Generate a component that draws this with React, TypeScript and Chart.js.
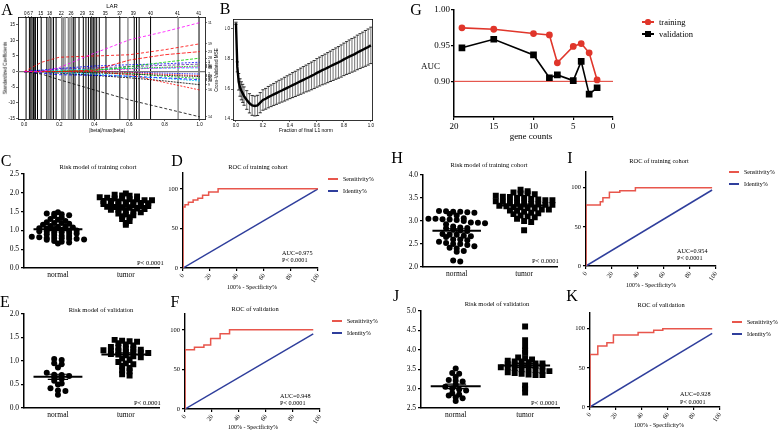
import React, { useEffect, useRef } from "react";
import { Chart, registerables } from "chart.js";

Chart.register(...registerables);

const SERIF = '"Liberation Serif", "Times New Roman", serif';
const SANS = '"Liberation Sans", Arial, sans-serif';
const G_RED = "#e0362b";
const ROC_RED = "#e8564c";
const ROC_BLUE = "#2f3e9c";

/* ---------------- Panel A : LAR coefficient paths ---------------- */
const larKnots = [0, 0.1, 0.2, 0.4, 0.6, 0.8, 1.0];
const larCoefMagenta = [0, 0, 1.3, 5.9, 10.2, 12.8, 15.7];
const larCoefBlackDown = [0, -0.8, -2.6, -5.9, -9.1, -11.8, -14.5];
const larCoefRedUp = [0, 3.0, 4.6, 5.0, 5.4, 7.0, 8.9];
const larCoefRed2 = [0, 0, 0, 0.5, 3.7, 5.4, 6.4];
const larCoefRedDown = [0, 0, 0, 0, -1.0, -3.5, -5.9];
const larCoefGreen = [0, 0, 0, 0.3, 1.6, 3.0, 4.3];
const larCoefBlue = [0, 0.5, 1.0, 1.8, 2.2, 2.5, 3.0];
const larCoefBlue2 = [0, -0.5, -1.0, -1.2, -1.5, -2.0, -2.6];
const larCoefCyan = [0, 0, -0.3, -0.8, -1.5, -2.2, -3.0];
const larCoefPurple = [0, 0.3, 0.8, 1.2, 1.6, 2.0, 2.4];
const larCoefGreen2 = [0, 0, 0.2, 0.6, 1.0, 1.4, 1.8];
const larCoefBlack2 = [0, 0, -0.5, -1.2, -2.0, -3.0, -4.2];
const larCoefMagenta2 = [0, 0, 0, 0.4, 0.8, 1.2, 1.5];
const larCoefCyan2 = [0, 0, 0.4, 0.8, 1.0, 1.1, 1.2];
const larCoefBlack3 = [0, 0, 0, -0.4, -0.8, -1.2, -1.6];
const larCoefRed3 = [0, 0, 0, 0.2, -0.3, -0.9, -1.3];
const larCoefGreen3 = [0, 0, 0, -0.2, -0.6, -1.5, -2.2];
const larCoefBlue3 = [0, 0, 0, 0, -0.2, -0.5, -0.8];
const larRightLabels = ["11", "14", "19", "23", "16", "28", "3", "33", "20", "7", "30", "9", "25", "36", "12", "40", "5", "2"];
const larStepsBlack = [0.011, 0.03, 0.038, 0.045, 0.053, 0.061, 0.064, 0.076, 0.097, 0.129, 0.148, 0.167, 0.182, 0.28, 0.29, 0.3125, 0.337, 0.352, 0.366, 0.379, 0.386, 0.394, 0.403, 0.413, 0.428, 0.466, 0.545, 0.627, 0.64, 0.655, 0.72, 0.996];
const larStepsGray = [0.138, 0.157, 0.214, 0.223, 0.233, 0.252, 0.261, 0.271, 0.591, 0.877];
const larTopTickPos = [0.006, 0.025, 0.044, 0.095, 0.144, 0.212, 0.267, 0.333, 0.384, 0.462, 0.545, 0.621, 0.72, 0.873, 0.994];
const larTopTickLabels = ["0", "6", "7", "15", "18", "22", "26", "29", "32", "35", "37", "39", "40", "41", "41"];
const larXTicks = [0, 0.2, 0.4, 0.6, 0.8, 1.0];
const larYTicks = [-15, -10, -5, 0, 5, 10, 15];

/* ---------------- Panel B : cross-validation curve ---------------- */
const cvFraction = [0, 0.01, 0.02, 0.03, 0.04, 0.05, 0.06, 0.08, 0.1, 0.12, 0.14, 0.16, 0.18, 0.2, 0.22, 0.24, 0.26, 0.28, 0.3, 0.32, 0.34, 0.36, 0.38, 0.4, 0.42, 0.44, 0.46, 0.48, 0.5, 0.52, 0.54, 0.56, 0.58, 0.6, 0.62, 0.64, 0.66, 0.68, 0.7, 0.72, 0.74, 0.76, 0.78, 0.8, 0.82, 0.84, 0.86, 0.88, 0.9, 0.92, 0.94, 0.96, 0.98, 1.0];
const cvMean = [1.038, 0.748, 0.649, 0.611, 0.589, 0.572, 0.554, 0.528, 0.506, 0.492, 0.488, 0.492, 0.51, 0.528, 0.536, 0.547, 0.556, 0.565, 0.574, 0.583, 0.591, 0.6, 0.609, 0.618, 0.627, 0.635, 0.644, 0.653, 0.662, 0.671, 0.679, 0.688, 0.697, 0.708, 0.717, 0.726, 0.734, 0.743, 0.752, 0.761, 0.77, 0.778, 0.787, 0.798, 0.807, 0.816, 0.825, 0.833, 0.844, 0.853, 0.862, 0.871, 0.88, 0.891];
const cvSd = [0.007, 0.033, 0.055, 0.058, 0.06, 0.06, 0.061, 0.062, 0.064, 0.066, 0.066, 0.067, 0.067, 0.068, 0.069, 0.071, 0.072, 0.073, 0.075, 0.076, 0.077, 0.079, 0.08, 0.081, 0.083, 0.084, 0.085, 0.087, 0.088, 0.089, 0.091, 0.092, 0.093, 0.095, 0.096, 0.097, 0.099, 0.1, 0.101, 0.103, 0.104, 0.105, 0.107, 0.108, 0.109, 0.111, 0.112, 0.113, 0.115, 0.116, 0.117, 0.119, 0.12, 0.121];
const cvXTicks = [0, 0.2, 0.4, 0.6, 0.8, 1.0];
const cvYTicks = [0.4, 0.6, 0.8, 1.0];

/* ---------------- Panel G : AUC vs gene counts ---------------- */
const geneCounts = [19, 15, 10, 8, 7, 5, 4, 3, 2];
const aucTraining = [0.975, 0.973, 0.967, 0.965, 0.926, 0.949, 0.953, 0.94, 0.902];
const aucValidation = [0.947, 0.959, 0.937, 0.905, 0.909, 0.901, 0.928, 0.882, 0.891];
const aucCutoff = 0.9;
const gXTicks = [0, 5, 10, 15, 20];
const gYTicks = [0.9, 0.95, 1.0];

/* ---------------- Dot plots C, E, H, J ---------------- */
const dotCategories = ["normal", "tumor"];
const cNormal = [1.48, 1.45, 1.44, 1.43, 1.4, 1.38, 1.35, 1.3, 1.28, 1.25, 1.22, 1.2, 1.2, 1.18, 1.15, 1.12, 1.1, 1.1, 1.08, 1.06, 1.05, 1.04, 1.02, 1.0, 1.0, 0.98, 0.97, 0.95, 0.95, 0.93, 0.92, 0.9, 0.88, 0.86, 0.85, 0.83, 0.82, 0.8, 0.8, 0.79, 0.78, 0.78, 0.76, 0.75, 0.72, 0.7, 0.68, 0.65];
const cTumor = [1.98, 1.95, 1.93, 1.92, 1.9, 1.88, 1.87, 1.85, 1.85, 1.83, 1.82, 1.8, 1.8, 1.78, 1.78, 1.77, 1.75, 1.75, 1.73, 1.72, 1.7, 1.7, 1.68, 1.68, 1.67, 1.65, 1.65, 1.63, 1.62, 1.6, 1.6, 1.58, 1.57, 1.55, 1.55, 1.52, 1.5, 1.48, 1.45, 1.42, 1.4, 1.38, 1.35, 1.3, 1.25, 1.2, 1.15];
const cYTicks = [0, 0.5, 1.0, 1.5, 2.0, 2.5];
const eNormal = [1.04, 1.02, 0.95, 0.93, 0.86, 0.75, 0.71, 0.7, 0.68, 0.65, 0.62, 0.58, 0.52, 0.5, 0.42, 0.37, 0.36, 0.28];
const eTumor = [1.45, 1.43, 1.42, 1.41, 1.38, 1.35, 1.33, 1.3, 1.28, 1.26, 1.25, 1.24, 1.23, 1.22, 1.21, 1.2, 1.19, 1.18, 1.17, 1.15, 1.14, 1.12, 1.1, 1.08, 1.05, 1.02, 0.98, 0.95, 0.93, 0.9, 0.85, 0.8, 0.78, 0.72, 0.69];
const eYTicks = [0, 0.5, 1.0, 1.5, 2.0];
const hNormal = [3.22, 3.21, 3.2, 3.2, 3.19, 3.18, 3.15, 3.12, 3.06, 3.05, 3.05, 3.04, 3.03, 3.02, 3.0, 2.97, 2.96, 2.95, 2.93, 2.88, 2.86, 2.85, 2.84, 2.82, 2.8, 2.78, 2.72, 2.7, 2.7, 2.68, 2.67, 2.65, 2.6, 2.6, 2.58, 2.55, 2.52, 2.5, 2.5, 2.48, 2.45, 2.42, 2.4, 2.35, 2.33, 2.14, 2.12];
const hTumor = [3.68, 3.65, 3.62, 3.6, 3.6, 3.58, 3.55, 3.53, 3.52, 3.5, 3.5, 3.48, 3.47, 3.45, 3.45, 3.43, 3.42, 3.4, 3.4, 3.38, 3.37, 3.36, 3.35, 3.35, 3.33, 3.32, 3.3, 3.3, 3.28, 3.27, 3.25, 3.25, 3.23, 3.22, 3.2, 3.18, 3.17, 3.15, 3.12, 3.1, 3.08, 3.05, 3.0, 2.98, 2.8];
const hYTicks = [2.0, 2.5, 3.0, 3.5, 4.0];
const jNormal = [3.52, 3.4, 3.38, 3.3, 3.22, 3.2, 3.18, 3.1, 3.05, 3.0, 2.98, 2.95, 2.88, 2.85, 2.82, 2.78, 2.75, 2.68];
const jTumor = [4.6, 4.25, 4.1, 3.98, 3.92, 3.8, 3.78, 3.75, 3.72, 3.7, 3.7, 3.68, 3.65, 3.65, 3.63, 3.62, 3.6, 3.6, 3.58, 3.57, 3.55, 3.55, 3.53, 3.5, 3.5, 3.48, 3.45, 3.45, 3.42, 3.4, 3.38, 3.36, 3.35, 3.35, 3.08, 3.0, 2.9];
const jYTicks = [2.5, 3.0, 3.5, 4.0, 4.5, 5.0];

/* ---------------- ROC curves D, F, I, K ---------------- */
const rocDFpr = [0, 0, 1.5, 1.5, 4, 4, 7.5, 7.5, 11, 11, 14.5, 14.5, 19, 19, 26, 26, 100];
const rocDTpr = [0, 77, 77, 80, 80, 83, 83, 86, 86, 88, 88, 92, 92, 96, 96, 100, 100];
const rocDIdentity = [0, 100];
const rocFFpr = [0, 0, 7, 7, 14, 14, 19, 19, 26, 26, 33, 33, 95];
const rocFTpr = [0, 75, 75, 78, 78, 81, 81, 89, 89, 95, 95, 100, 100];
const rocFIdentity = [0, 95];
const rocIFpr = [0, 0, 11, 11, 13, 13, 18, 18, 26, 26, 38, 38, 97];
const rocITpr = [0, 78, 78, 82, 82, 87, 87, 94, 94, 96, 96, 100, 100];
const rocIIdentity = [0, 97];
const rocKFpr = [0, 0, 6, 6, 13, 13, 18, 18, 37, 37, 49, 49, 56, 56, 94];
const rocKTpr = [0, 67, 67, 78, 78, 82, 82, 92, 92, 95, 95, 98, 98, 100, 100];
const rocKIdentity = [0, 94];
const rocXTicks = [0, 20, 40, 60, 80, 100];
const rocYTicks = [0, 50, 100];

/* ---------------- helpers ---------------- */
type Box = { l: number; t: number; r: number; b: number };

const fit = (size: number) => (s: any) => {
  if (s.isHorizontal()) s.height = size;
  else s.width = size;
  s.paddingLeft = 0;
  s.paddingRight = 0;
  s.paddingTop = 0;
  s.paddingBottom = 0;
};
const setTicks = (vals: number[]) => (s: any) => {
  s.ticks = vals.map((v) => ({ value: v }));
};
const mean = (a: number[]) => a.reduce((p, c) => p + c, 0) / a.length;
const sem = (a: number[]) => {
  const m = mean(a);
  const v = a.reduce((p, c) => p + (c - m) * (c - m), 0) / (a.length - 1);
  return Math.sqrt(v) / Math.sqrt(a.length);
};
function swarm(vals: number[], center: number, bin: number, dx: number) {
  const groups = new Map<number, number[]>();
  vals.forEach((v) => {
    const k = Math.round(v / bin);
    if (!groups.has(k)) groups.set(k, []);
    groups.get(k)!.push(v);
  });
  const pts: { x: number; y: number }[] = [];
  groups.forEach((list) => {
    const n = list.length;
    list.forEach((v, i) => pts.push({ x: center + (i - (n - 1) / 2) * dx, y: v }));
  });
  return pts;
}
function base(pad: Box, top: boolean, right: boolean) {
  return {
    animation: false,
    responsive: false,
    maintainAspectRatio: false,
    events: [],
    layout: { padding: { left: 0, bottom: 0, top: top ? 0 : pad.t, right: right ? 0 : pad.r } },
    plugins: { legend: { display: false }, tooltip: { enabled: false } },
  };
}
const blackAxisGrid = (len: number, w = 1) => ({ drawOnChartArea: false, drawTicks: true, tickLength: len, color: "#000", lineWidth: w });

/* ---------------- chart builders ---------------- */
function larChart(pad: Box) {
  const paths: [number[], string, number[]][] = [
    [larCoefMagenta, "#ff00ff", [3, 2]],
    [larCoefBlackDown, "#000000", [3, 2]],
    [larCoefRedUp, "#ff0000", [3, 2]],
    [larCoefRed2, "#ff0000", [4, 1.5]],
    [larCoefRedDown, "#ff0000", [2, 1.5]],
    [larCoefGreen, "#00cd00", [3, 1.5]],
    [larCoefBlue, "#0000ff", [2, 1.5]],
    [larCoefBlue2, "#0000ff", [3, 2]],
    [larCoefCyan, "#00c8ff", [2, 1]],
    [larCoefPurple, "#5a1ea0", [3, 1.5]],
    [larCoefGreen2, "#00cd00", [1.5, 1]],
    [larCoefBlack2, "#000000", [2, 1]],
    [larCoefMagenta2, "#ff00ff", [2, 1]],
    [larCoefCyan2, "#00c8ff", [3, 1.5]],
    [larCoefBlack3, "#000000", [1.5, 1]],
    [larCoefRed3, "#ff0000", [1.5, 1]],
    [larCoefGreen3, "#00cd00", [2, 1.5]],
    [larCoefBlue3, "#0000ff", [1.5, 1]],
  ];
  const yMin = -15.2;
  const yMax = 17.5;
  const vlines = (steps: number[]) => steps.flatMap((s) => [{ x: s, y: yMin }, { x: s, y: yMax }, { x: s, y: null }]);
  const rightVals = paths.map((p) => p[0][p[0].length - 1]);
  return {
    type: "scatter",
    data: {
      datasets: [
        ...paths.map(([coef, color, dash]) => ({
          data: larKnots.map((x, i) => ({ x, y: coef[i] })),
          showLine: true,
          borderColor: color,
          borderWidth: 0.8,
          borderDash: dash,
          pointRadius: 0,
        })),
        { data: [{ x: -0.035, y: 0 }, { x: 1.03, y: 0 }], showLine: true, borderColor: "#7a7a7a", borderWidth: 1.2, pointRadius: 0 },
        { data: vlines(larStepsBlack), showLine: true, borderColor: "#000", borderWidth: 1, pointRadius: 0 },
        { data: vlines(larStepsGray), showLine: true, borderColor: "#8c8c8c", borderWidth: 1.4, pointRadius: 0 },
      ],
    },
    options: {
      ...base(pad, true, true),
      scales: {
        x: {
          type: "linear", min: -0.035, max: 1.03, afterBuildTicks: setTicks(larXTicks), afterFit: fit(pad.b),
          ticks: { autoSkip: false, maxRotation: 0, padding: 1, color: "#000", font: { family: SANS, size: 4.5 }, callback: (v: number) => v.toFixed(1) },
          grid: blackAxisGrid(2, 0.6), border: { color: "#000", width: 0.8 },
        },
        x2: {
          type: "linear", position: "top", min: -0.035, max: 1.03, afterBuildTicks: setTicks(larTopTickPos), afterFit: fit(pad.t),
          ticks: { autoSkip: false, maxRotation: 0, padding: 0, color: "#000", font: { family: SANS, size: 4.5 }, callback: (_v: number, i: number) => larTopTickLabels[i] },
          grid: blackAxisGrid(1, 0.6), border: { color: "#000", width: 0.8 },
        },
        y: {
          type: "linear", min: yMin, max: yMax, afterBuildTicks: setTicks(larYTicks), afterFit: fit(pad.l),
          ticks: { padding: 1, color: "#000", font: { family: SANS, size: 4.5 } },
          grid: blackAxisGrid(2, 0.6), border: { color: "#000", width: 0.8 },
        },
        y2: {
          type: "linear", position: "right", min: yMin, max: yMax, afterBuildTicks: setTicks(rightVals), afterFit: fit(pad.r),
          ticks: { autoSkip: false, padding: 1, color: "#000", font: { family: SANS, size: 3.6 }, callback: (_v: number, i: number) => larRightLabels[i] },
          grid: blackAxisGrid(2, 0.5), border: { color: "#000", width: 0.8 },
        },
      },
    },
  };
}

function cvChart(pad: Box) {
  const bars = cvFraction.flatMap((f, i) => [{ x: f, y: cvMean[i] - cvSd[i] }, { x: f, y: cvMean[i] + cvSd[i] }, { x: f, y: null }]);
  return {
    type: "scatter",
    data: {
      datasets: [
        { data: cvFraction.map((f, i) => ({ x: f, y: cvMean[i] })), showLine: true, borderColor: "#000", borderWidth: 2.4, pointRadius: 0 },
        { data: cvFraction.map((f, i) => ({ x: f, y: cvMean[i] + cvSd[i] })), pointStyle: "line", pointRadius: 1.6, borderColor: "#000", borderWidth: 0.8, showLine: false },
        { data: cvFraction.map((f, i) => ({ x: f, y: cvMean[i] - cvSd[i] })), pointStyle: "line", pointRadius: 1.6, borderColor: "#000", borderWidth: 0.8, showLine: false },
        { data: bars, showLine: true, borderColor: "#7d7d7d", borderWidth: 1.1, pointRadius: 0 },
      ],
    },
    options: {
      ...base(pad, false, false),
      scales: {
        x: {
          type: "linear", min: -0.022, max: 1.01, afterBuildTicks: setTicks(cvXTicks), afterFit: fit(pad.b),
          ticks: { autoSkip: false, maxRotation: 0, padding: 1, color: "#000", font: { family: SANS, size: 4.5 }, callback: (v: number) => v.toFixed(1) },
          grid: blackAxisGrid(2, 0.6), border: { color: "#000", width: 0.8 },
        },
        x2: {
          type: "linear", position: "top", min: -0.022, max: 1.01, afterFit: fit(0),
          ticks: { display: false }, grid: { display: false, drawTicks: false }, border: { display: true, color: "#000", width: 0.8 },
        },
        y: {
          type: "linear", min: 0.395, max: 1.061, afterBuildTicks: setTicks(cvYTicks), afterFit: fit(pad.l),
          ticks: { padding: 1, color: "#000", font: { family: SANS, size: 4.5 }, callback: (v: number) => v.toFixed(1) },
          grid: blackAxisGrid(2, 0.6), border: { color: "#000", width: 0.8 },
        },
        y2: {
          type: "linear", position: "right", min: 0.395, max: 1.061, afterFit: fit(0),
          ticks: { display: false }, grid: { display: false, drawTicks: false }, border: { display: true, color: "#000", width: 0.8 },
        },
      },
    },
  };
}

function aucChart(pad: Box) {
  return {
    type: "scatter",
    data: {
      datasets: [
        { data: geneCounts.map((g, i) => ({ x: g, y: aucTraining[i] })), showLine: true, borderColor: G_RED, backgroundColor: G_RED, borderWidth: 1.6, pointStyle: "circle", pointRadius: 2.6 },
        { data: geneCounts.map((g, i) => ({ x: g, y: aucValidation[i] })), showLine: true, borderColor: "#000", backgroundColor: "#000", borderWidth: 1.6, pointStyle: "rect", pointRadius: 3.6 },
        { data: [{ x: gXTicks[gXTicks.length - 1], y: aucCutoff }, { x: gXTicks[0], y: aucCutoff }], showLine: true, borderColor: G_RED, borderWidth: 1, pointRadius: 0 },
      ],
    },
    options: {
      ...base(pad, false, false),
      scales: {
        x: {
          type: "linear", reverse: true, min: 0, max: 20, afterBuildTicks: setTicks(gXTicks), afterFit: fit(pad.b),
          ticks: { autoSkip: false, maxRotation: 0, padding: 1, color: "#000", font: { family: SERIF, size: 9 } },
          grid: blackAxisGrid(3, 1.2), border: { color: "#000", width: 1.5 },
        },
        y: {
          type: "linear", min: 0.85, max: 1.0, afterBuildTicks: setTicks(gYTicks), afterFit: fit(pad.l),
          ticks: { padding: 1, color: "#000", font: { family: SERIF, size: 9 }, callback: (v: number) => v.toFixed(2) },
          grid: blackAxisGrid(3, 1.2), border: { color: "#000", width: 1.5 },
        },
      },
    },
  };
}

function dotChart(pad: Box, normal: number[], tumor: number[], yTicks: number[], bin: number, dx: number) {
  const mN = mean(normal);
  const mT = mean(tumor);
  const sN = sem(normal);
  const sT = sem(tumor);
  const seg = (x0: number, x1: number, y: number, w: number) => ({
    data: [{ x: x0, y }, { x: x1, y }], showLine: true, borderColor: "#000", borderWidth: w, pointRadius: 0,
  });
  const whisk = (x: number, m: number, s: number) => ({
    data: [{ x, y: m - s }, { x, y: m + s }], showLine: true, borderColor: "#000", borderWidth: 1.2, pointRadius: 0,
  });
  return {
    type: "scatter",
    data: {
      datasets: [
        seg(0.64, 1.36, mN, 2),
        seg(1.64, 2.36, mT, 2),
        seg(0.85, 1.15, mN + sN, 1.2),
        seg(0.85, 1.15, mN - sN, 1.2),
        seg(1.85, 2.15, mT + sT, 1.2),
        seg(1.85, 2.15, mT - sT, 1.2),
        whisk(1, mN, sN),
        whisk(2, mT, sT),
        { data: swarm(normal, 1, bin, dx), pointStyle: "circle", pointRadius: 3, backgroundColor: "#000", borderColor: "#000", borderWidth: 0 },
        { data: swarm(tumor, 2, bin, dx), pointStyle: "rect", pointRadius: 4.2, backgroundColor: "#000", borderColor: "#000", borderWidth: 0 },
      ],
    },
    options: {
      ...base(pad, false, false),
      scales: {
        x: {
          type: "linear", min: 0.5, max: 2.5, afterBuildTicks: setTicks([1, 2]), afterFit: fit(pad.b),
          ticks: { autoSkip: false, maxRotation: 0, padding: 3, color: "#000", font: { family: SERIF, size: 7.5 }, callback: (v: number) => dotCategories[Math.round(v) - 1] },
          grid: { display: false, drawTicks: false, tickLength: 0 }, border: { display: true, color: "#000", width: 1.5 },
        },
        y: {
          type: "linear", min: yTicks[0], max: yTicks[yTicks.length - 1], afterBuildTicks: setTicks(yTicks), afterFit: fit(pad.l),
          ticks: { padding: 2, color: "#000", font: { family: SERIF, size: 7.5 }, callback: (v: number) => v.toFixed(1) },
          grid: blackAxisGrid(3, 1.2), border: { display: true, color: "#000", width: 1.5 },
        },
      },
    },
  };
}

function rocChart(pad: Box, fpr: number[], tpr: number[], identity: number[]) {
  return {
    type: "scatter",
    data: {
      datasets: [
        { data: fpr.map((x, i) => ({ x, y: tpr[i] })), showLine: true, borderColor: ROC_RED, borderWidth: 1.5, pointRadius: 0 },
        { data: identity.map((v) => ({ x: v, y: v })), showLine: true, borderColor: ROC_BLUE, borderWidth: 1.5, pointRadius: 0 },
      ],
    },
    options: {
      ...base(pad, false, false),
      scales: {
        x: {
          type: "linear", min: 0, max: 100, afterBuildTicks: setTicks(rocXTicks), afterFit: fit(pad.b),
          ticks: { autoSkip: false, minRotation: 55, maxRotation: 55, padding: 1, color: "#000", font: { family: SERIF, size: 6.5 } },
          grid: blackAxisGrid(3, 1.2), border: { color: "#000", width: 1.4 },
        },
        y: {
          type: "linear", min: 0, max: 120, afterBuildTicks: setTicks(rocYTicks), afterFit: fit(pad.l),
          ticks: { padding: 2, color: "#000", font: { family: SERIF, size: 6.5 } },
          grid: blackAxisGrid(3, 1.2), border: { color: "#000", width: 1.4 },
        },
      },
    },
  };
}

/* ---------------- layout of panels ---------------- */
type Spec = { key: string; plot: Box; pad: Box; make: (pad: Box) => any };
const dotPad: Box = { l: 22, t: 6, r: 4, b: 16 };
const rocPad: Box = { l: 22, t: 6, r: 6, b: 22 };
const SPECS: Spec[] = [
  { key: "A", plot: { l: 18, t: 17, r: 205, b: 119 }, pad: { l: 16, t: 17, r: 12, b: 12 }, make: larChart },
  { key: "B", plot: { l: 233, t: 19, r: 373, b: 120 }, pad: { l: 8, t: 4, r: 4, b: 12 }, make: cvChart },
  { key: "G", plot: { l: 454, t: 10, r: 613, b: 117 }, pad: { l: 26, t: 6, r: 6, b: 14 }, make: aucChart },
  { key: "C", plot: { l: 24, t: 174, r: 160, b: 268 }, pad: dotPad, make: (p) => dotChart(p, cNormal, cTumor, cYTicks, 0.08, 0.11) },
  { key: "E", plot: { l: 24, t: 314, r: 160, b: 408 }, pad: dotPad, make: (p) => dotChart(p, eNormal, eTumor, eYTicks, 0.08, 0.11) },
  { key: "H", plot: { l: 423, t: 175, r: 558, b: 267 }, pad: dotPad, make: (p) => dotChart(p, hNormal, hTumor, hYTicks, 0.1, 0.105) },
  { key: "J", plot: { l: 421, t: 311, r: 560, b: 408 }, pad: dotPad, make: (p) => dotChart(p, jNormal, jTumor, jYTicks, 0.1, 0.1) },
  { key: "D", plot: { l: 183, t: 173, r: 318, b: 268 }, pad: rocPad, make: (p) => rocChart(p, rocDFpr, rocDTpr, rocDIdentity) },
  { key: "F", plot: { l: 185, t: 314, r: 320, b: 409 }, pad: rocPad, make: (p) => rocChart(p, rocFFpr, rocFTpr, rocFIdentity) },
  { key: "I", plot: { l: 586, t: 172, r: 716, b: 266 }, pad: rocPad, make: (p) => rocChart(p, rocIFpr, rocITpr, rocIIdentity) },
  { key: "K", plot: { l: 590, t: 313, r: 720, b: 407 }, pad: rocPad, make: (p) => rocChart(p, rocKFpr, rocKTpr, rocKIdentity) },
];

/* ---------------- text helpers ---------------- */
function T(props: { x: number; y: number; s: number; f?: string; a?: "l" | "c" | "r"; r?: number; children: React.ReactNode }) {
  const { x, y, s, f = SERIF, a = "c", r = 0, children } = props;
  const tx = a === "l" ? "0" : a === "r" ? "-100%" : "-50%";
  return (
    <div style={{ position: "absolute", left: x, top: y, transform: `translate(${tx},-50%) rotate(${r}deg)`, fontFamily: f, fontSize: s, lineHeight: 1, whiteSpace: "nowrap", color: "#000" }}>
      {children}
    </div>
  );
}
function Swatch(props: { x1: number; x2: number; y: number; color: string; w?: number; marker?: "circle" | "square" }) {
  const { x1, x2, y, color, w = 1.5, marker } = props;
  const mid = (x1 + x2) / 2;
  return (
    <>
      <div style={{ position: "absolute", left: x1, top: y - w / 2, width: x2 - x1, height: w, background: color }} />
      {marker && (
        <div style={{ position: "absolute", left: mid - 2.6, top: y - 2.6, width: 5.2, height: 5.2, background: color, borderRadius: marker === "circle" ? "50%" : 0 }} />
      )}
    </>
  );
}
function RocLegend(props: { x: number; y: number }) {
  const { x, y } = props;
  return (
    <>
      <Swatch x1={x} x2={x + 10} y={y} color={ROC_RED} />
      <T x={x + 15} y={y} s={6} a="l">Sensitivity%</T>
      <Swatch x1={x} x2={x + 10} y={y + 12} color={ROC_BLUE} />
      <T x={x + 15} y={y + 12} s={6} a="l">Identity%</T>
    </>
  );
}

export default function App() {
  const refs = useRef<(HTMLCanvasElement | null)[]>([]);
  useEffect(() => {
    const charts = SPECS.map((s, i) => new Chart(refs.current[i] as HTMLCanvasElement, s.make(s.pad)));
    return () => charts.forEach((c) => c.destroy());
  }, []);
  return (
    <div style={{ position: "fixed", left: 0, top: 0, width: 778, height: 432, background: "#fff", overflow: "hidden" }}>
      {SPECS.map((s, i) => {
        const w = s.plot.r - s.plot.l + s.pad.l + s.pad.r;
        const h = s.plot.b - s.plot.t + s.pad.t + s.pad.b;
        return (
          <canvas
            key={s.key}
            ref={(el) => {
              refs.current[i] = el;
            }}
            width={w}
            height={h}
            style={{ position: "absolute", left: s.plot.l - s.pad.l, top: s.plot.t - s.pad.t, width: w, height: h }}
          />
        );
      })}

      {/* panel letters */}
      <T x={7} y={10} s={16}>A</T>
      <T x={225} y={9} s={16}>B</T>
      <T x={416} y={10} s={16}>G</T>
      <T x={6} y={161} s={16}>C</T>
      <T x={177} y={161} s={16}>D</T>
      <T x={5} y={302} s={16}>E</T>
      <T x={175} y={302} s={16}>F</T>
      <T x={397} y={158} s={16}>H</T>
      <T x={570} y={158} s={16}>I</T>
      <T x={396} y={296} s={16}>J</T>
      <T x={572} y={296} s={16}>K</T>

      {/* panel A / B labels */}
      <T x={112} y={6} s={6} f={SANS}>LAR</T>
      <T x={107} y={130} s={5} f={SANS}>|beta|/max|beta|</T>
      <T x={6} y={68} s={4.6} f={SANS} r={-90}>Standardized Coefficients</T>
      <T x={306} y={130} s={5} f={SANS}>Fraction of final L1 norm</T>
      <T x={217} y={70} s={4.6} f={SANS} r={-90}>Cross-Validated MSE</T>

      {/* panel G labels */}
      <T x={421} y={66} s={9} a="l">AUC</T>
      <T x={531} y={136} s={9}>gene counts</T>
      <Swatch x1={642} x2={654} y={22} color={G_RED} marker="circle" />
      <T x={659} y={22} s={8.5} a="l">training</T>
      <Swatch x1={642} x2={654} y={34} color="#000" marker="square" />
      <T x={659} y={34} s={8.5} a="l">validation</T>

      {/* dot plot titles and p-values */}
      <T x={98} y={167} s={6.5}>Risk model of training cohort</T>
      <T x={137} y={263} s={6.5} a="l">P&lt; 0.0001</T>
      <T x={101} y={310} s={6.5}>Risk model of validation</T>
      <T x={134} y={403} s={6.5} a="l">P&lt; 0.0001</T>
      <T x={489} y={165} s={6.5}>Risk model of training cohort</T>
      <T x={532} y={261} s={6.5} a="l">P&lt; 0.0001</T>
      <T x={497} y={304} s={6.5}>Risk model of validation</T>
      <T x={531} y={403} s={6.5} a="l">P&lt; 0.0001</T>

      {/* ROC panels */}
      <T x={258} y={167} s={6.4}>ROC of training cohort</T>
      <RocLegend x={328} y={179} />
      <T x={282} y={253} s={6.2} a="l">AUC=0.975</T>
      <T x={282} y={260} s={6.2} a="l">P&lt; 0.0001</T>
      <T x={252} y={287} s={6}>100% - Specificity%</T>

      <T x={255} y={309} s={6.4}>ROC of validation</T>
      <RocLegend x={332} y={321} />
      <T x={280} y={396} s={6.2} a="l">AUC=0.948</T>
      <T x={280} y={403} s={6.2} a="l">P&lt; 0.0001</T>
      <T x={253} y={427} s={6}>100% - Specificity%</T>

      <T x={659} y={161} s={6.4}>ROC of training cohort</T>
      <RocLegend x={729} y={172} />
      <T x={677} y={251} s={6.2} a="l">AUC=0.954</T>
      <T x={677} y={258} s={6.2} a="l">P&lt; 0.0001</T>
      <T x={651} y={285} s={6}>100% - Specificity%</T>

      <T x={661} y={305} s={6.4}>ROC of validation</T>
      <RocLegend x={732} y={322} />
      <T x={680} y={394} s={6.2} a="l">AUC=0.928</T>
      <T x={680} y={402} s={6.2} a="l">P&lt; 0.0001</T>
      <T x={659} y={425} s={6}>100% - Specificity%</T>
    </div>
  );
}
